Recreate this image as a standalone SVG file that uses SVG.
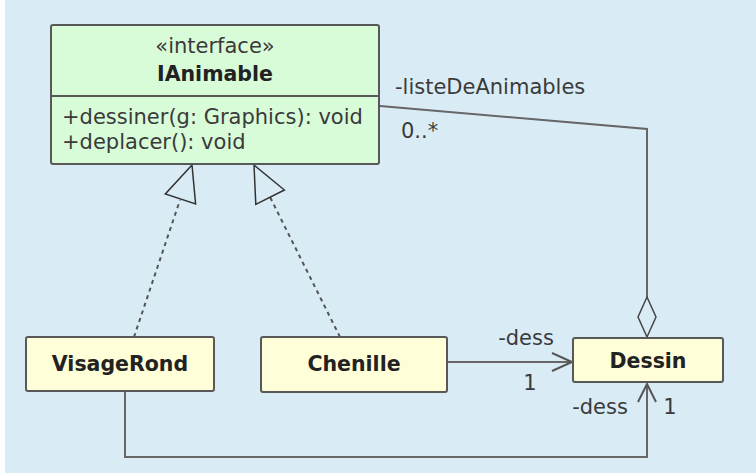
<svg xmlns="http://www.w3.org/2000/svg" width="756" height="473" viewBox="0 0 756 473">
<style>
.bg{fill:#d9ecf6}
.iface{fill:#d8fbd8;stroke:#585858;stroke-width:2}
.cls{fill:#fefed9;stroke:#585858;stroke-width:2}
.name{font-family:"DejaVu Sans",sans-serif;font-weight:bold;font-size:20.5px;fill:#222;text-anchor:middle}
.txt{font-family:"DejaVu Sans",sans-serif;font-size:21px;fill:#3a3a3a}
.mid{text-anchor:middle}
.line{fill:none;stroke:#666;stroke-width:2}
.dash{fill:none;stroke:#555;stroke-width:2;stroke-dasharray:4 4}
.tri{fill:#d9ecf6;stroke:#333;stroke-width:1.5}
.open{fill:none;stroke:#555;stroke-width:2}
.dia{fill:#d9ecf6;stroke:#444;stroke-width:1.5}
</style>
<rect class="bg" x="5" y="0" width="751" height="473"/>
<g id="connectors">
  <polyline class="line" points="380,106 647,129 647,297"/>
  <polygon class="dia" points="647,297 656,317 647,337 638,317"/>
  <line class="dash" x1="134" y1="337" x2="180" y2="200"/>
  <polygon class="tri" points="192,165 195.6,204 165.3,194"/>
  <line class="dash" x1="340" y1="337" x2="270" y2="197"/>
  <polygon class="tri" points="254,165 284.4,190 255.8,204.4"/>
  <line class="line" x1="447" y1="362" x2="572" y2="362"/>
  <polyline class="open" points="552,353 572,362 552,371"/>
  <polyline class="line" points="125,391 125,457 647,457 647,384"/>
  <polyline class="open" points="638,402 647,384 656,402"/>
  <text class="txt" x="395" y="94">-listeDeAnimables</text>
  <text class="txt" x="401" y="138">0..*</text>
  <text class="txt mid" x="526" y="345">-dess</text>
  <text class="txt mid" x="530" y="390">1</text>
  <text class="txt mid" x="600" y="414">-dess</text>
  <text class="txt mid" x="670" y="414">1</text>
</g>
<g id="IAnimable">
  <rect class="iface" x="51" y="25" width="328" height="139" rx="2"/>
  <line x1="51" y1="96" x2="379" y2="96" stroke="#585858" stroke-width="2"/>
  <text class="txt mid" x="215" y="53">«interface»</text>
  <text class="name" x="215" y="80.5">IAnimable</text>
  <text class="txt" x="62" y="124">+dessiner(g: Graphics): void</text>
  <text class="txt" x="62" y="149">+deplacer(): void</text>
</g>
<g id="VisageRond">
  <rect class="cls" x="26" y="337" width="188" height="54" rx="2"/>
  <text class="name" x="120" y="371">VisageRond</text>
</g>
<g id="Chenille">
  <rect class="cls" x="261" y="337" width="186" height="55" rx="2"/>
  <text class="name" x="354" y="371">Chenille</text>
</g>
<g id="Dessin">
  <rect class="cls" x="573" y="338" width="150" height="44" rx="2"/>
  <text class="name" x="648" y="367.5">Dessin</text>
</g>
</svg>
